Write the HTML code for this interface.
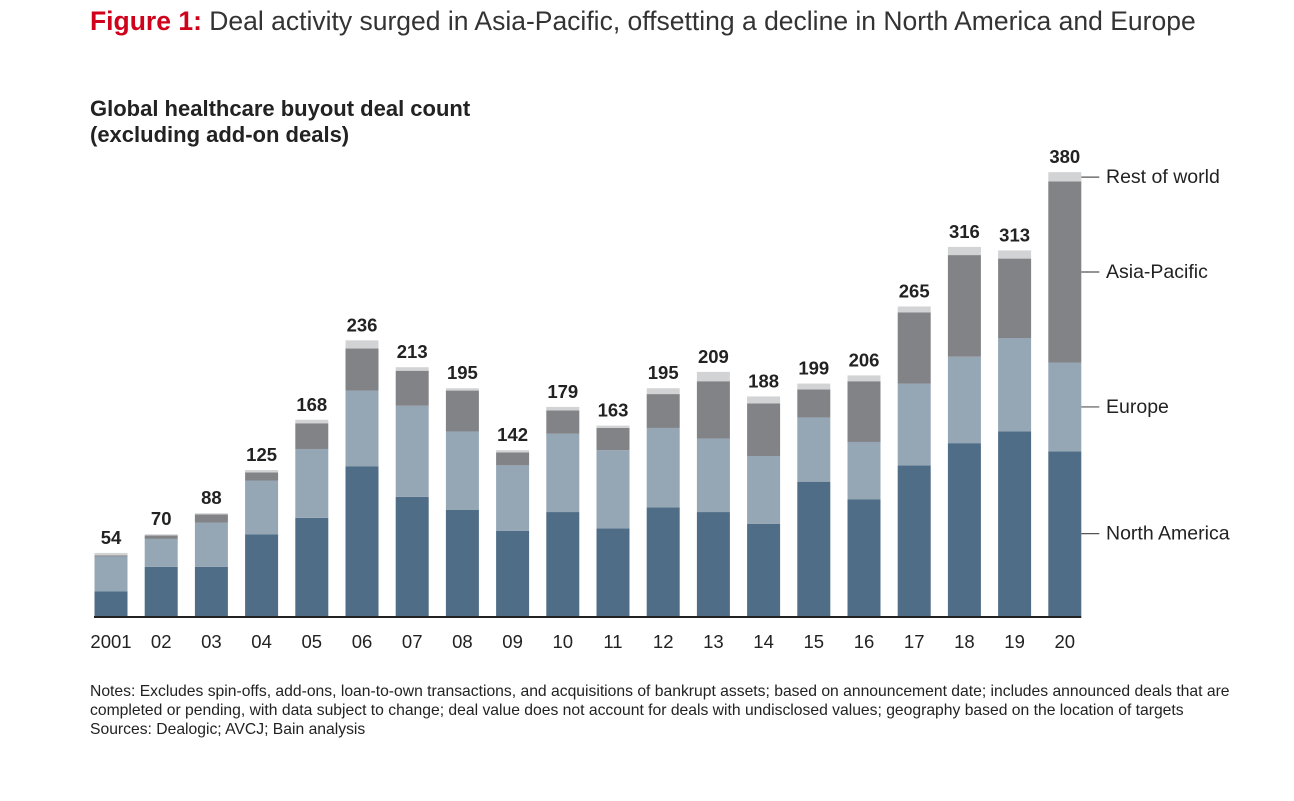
<!DOCTYPE html>
<html><head><meta charset="utf-8">
<style>
body{margin:0;background:#fff;width:1294px;height:801px;overflow:hidden;font-family:"Liberation Sans",sans-serif;}
#title{position:absolute;left:90px;top:6px;font-size:26.5px;color:#333;white-space:nowrap;}
#title b{color:#d0021b;}
#sub{position:absolute;left:90px;top:96px;font-size:22px;font-weight:bold;color:#222;line-height:26px;}
#notes{position:absolute;left:90px;top:682px;font-size:15.7px;color:#222;line-height:19px;white-space:nowrap;}
svg{position:absolute;left:0;top:0;}
</style></head><body>
<div id="title"><b>Figure 1:</b> Deal activity surged in Asia-Pacific, offsetting a decline in North America and Europe</div>
<div id="sub">Global healthcare buyout deal count<br>(excluding add-on deals)</div>
<svg id="chart" width="1294" height="801"></svg>
<div id="notes">Notes: Excludes spin-offs, add-ons, loan-to-own transactions, and acquisitions of bankrupt assets; based on announcement date; includes announced deals that are<br>completed or pending, with data subject to change; deal value does not account for deals with undisclosed values; geography based on the location of targets<br>Sources: Dealogic; AVCJ; Bain analysis</div>
<script>
const categories=["2001","02","03","04","05","06","07","08","09","10","11","12","13","14","15","16","17","18","19","20"];
const northAmerica=[21,42,42,70,84,128,102,91,73,89,75,93,89,79,115,100,129,148,158,141];
const europe=[30,24,38,46,59,65,78,67,56,67,67,68,63,58,55,49,70,74,80,76];
const asiaPacific=[1,3,7,7,22,36,30,35,11,20,19,29,49,45,24,52,61,87,68,155];
const restOfWorld=[2,1,1,2,3,7,3,2,2,3,2,5,8,6,5,5,5,7,7,8];
const totals=[54,70,88,125,168,236,213,195,142,179,163,195,209,188,199,206,265,316,313,380];
const seriesNames=["North America","Europe","Asia-Pacific","Rest of world"];
const colors=["#4f6d86","#95a6b5","#828387","#d2d3d5"];
const svg=document.getElementById('chart');const NS="http://www.w3.org/2000/svg";
const base=616,pxPer=1.168,x0=111,step=50.2,bw=33;
const y=v=>base-v*pxPer;const x=i=>x0+i*step;
function mk(t,a){const e=document.createElementNS(NS,t);for(const k in a)e.setAttribute(k,a[k]);svg.appendChild(e);return e;}
const series=[northAmerica,europe,asiaPacific,restOfWorld];
categories.forEach((c,i)=>{
 let cum=0;
 series.forEach((s,k)=>{
  const r=mk('rect',{x:x(i)-bw/2,y:y(cum+s[i]),width:bw,height:s[i]*pxPer,fill:colors[k]});
  
  
  cum+=s[i];
 });
 const t=mk('text',{x:x(i),y:y(cum)-9,'text-anchor':'middle','font-size':18.5,'font-weight':'bold',fill:'#222'});
 t.textContent=totals[i];
 
 
 const l=mk('text',{x:x(i),y:648,'text-anchor':'middle','font-size':18.5,fill:'#222'});
 l.textContent=c;
 
 
});
const ax=mk('line',{x1:94,x2:x(categories.length-1)+bw/2,y1:base+1,y2:base+1,stroke:'#222','stroke-width':2});


const li=categories.length-1;
let cum=0;
series.forEach((s,k)=>{
 const mid=cum+s[li]/2;cum+=s[li];
 const ly=k===3?y(cum)+5:y(mid);
 const ln=mk('line',{x1:x(li)+bw/2,x2:x(li)+bw/2+18,y1:ly,y2:ly,stroke:'#555','stroke-width':1.2});
 
 
 const t=mk('text',{x:1106,y:ly+6,'font-size':19.5,fill:'#222'});
 t.textContent=seriesNames[k];
 
 
});
</script>
</body></html>
